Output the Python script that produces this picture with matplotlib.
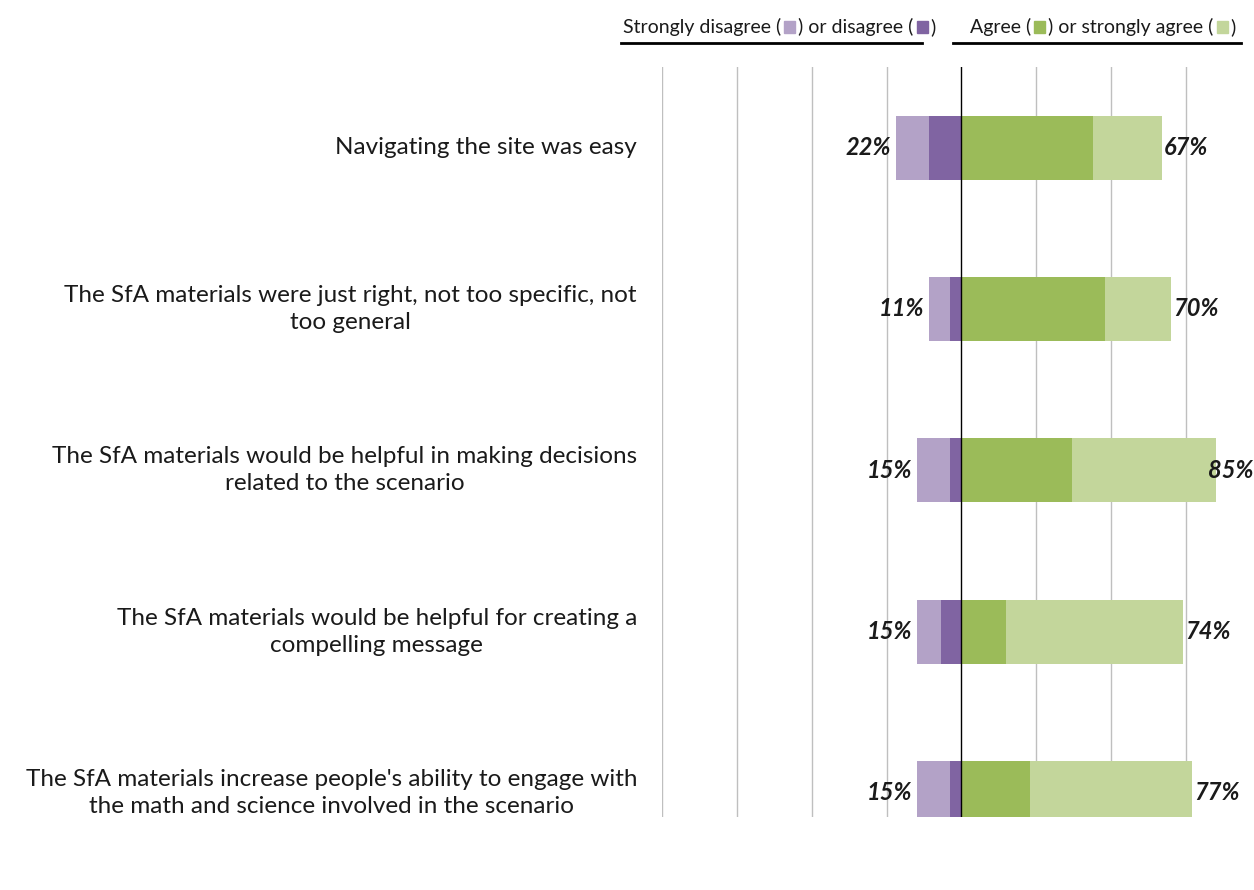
import matplotlib.pyplot as plt
from matplotlib.patches import Rectangle
from matplotlib.lines import Line2D
from matplotlib.transforms import Bbox, TransformedBbox, blended_transform_factory

plt.rcParams['font.family'] = ['Lato', 'DejaVu Sans']

statements = [
    "Navigating the site was easy",
    "The SfA materials were just right, not too specific, not\ntoo general",
    "The SfA materials would be helpful in making decisions\nrelated to the scenario",
    "The SfA materials would be helpful for creating a\ncompelling message",
    "The SfA materials increase people's ability to engage with\nthe math and science involved in the scenario",
]
strongly_disagree = [11, 7, 11, 8, 11]
disagree = [11, 4, 4, 7, 4]
agree = [44, 48, 37, 15, 23]
strongly_agree = [23, 22, 48, 59, 54]

c_sd = '#B3A2C7'
c_d = '#8064A2'
c_a = '#9BBB59'
c_sa = '#C3D69B'

W, H = 1254, 890
fig = plt.figure(figsize=(W / 100, H / 100), dpi=100)
ax = fig.add_axes([662 / W, 1 - 817 / H, (W - 662) / W, 750 / H])

y = list(range(len(statements)))
h = 0.397
neg_d = [-v for v in disagree]
ax.barh(y, neg_d, height=h, color=c_d, zorder=2)
ax.barh(y, [-v for v in strongly_disagree], left=neg_d, height=h, color=c_sd, zorder=2)
ax.barh(y, agree, height=h, color=c_a, zorder=2)
ax.barh(y, strongly_agree, left=agree, height=h, color=c_sa, zorder=2)

xmax = (W - 961) / 3
ax.set_xlim(-100, xmax)
ax.set_ylim(4 + 24 / 161.25, -0.5)
for gx in [-100, -75, -50, -25, 25, 50, 75]:
    ax.axvline(gx, color='#BFBFBF', lw=1, zorder=1)
ax.axvline(0, color='black', lw=1, zorder=3)
for s in ax.spines.values():
    s.set_visible(False)
ax.set_xticks([])
ax.set_yticks([])

# totals on each side
for i in y:
    left_total = strongly_disagree[i] + disagree[i]
    right_total = agree[i] + strongly_agree[i]
    ax.text(-left_total - 1.5, i, f"{left_total}%", ha='right', va='center',
            fontsize=17, fontweight='bold', fontstyle='italic', color='#1a1a1a')
    if right_total + 13 > xmax:
        # no room past the bar end, tuck it against the edge
        ax.text(xmax - 0.3, i, f"{right_total}%", ha='right', va='center',
                fontsize=17, fontweight='bold', fontstyle='italic', color='#1a1a1a',
                zorder=4)
    else:
        ax.text(right_total + 0.6, i, f"{right_total}%", ha='left', va='center',
                fontsize=17, fontweight='bold', fontstyle='italic', color='#1a1a1a')

# statement labels, clipped to plot area bottom
tr = blended_transform_factory(fig.transFigure, ax.transData)
clip = TransformedBbox(Bbox([[0, 1 - 817 / H], [1, 1]]), fig.transFigure)
for i, s in enumerate(statements):
    t = fig.text(637 / W, i, s, transform=tr, ha='right', va='center',
                 multialignment='center', fontsize=17.5, color='#1a1a1a',
                 linespacing=1.35)
    t.set_clip_box(clip)
    t.set_clip_on(True)

# header legends: text pieces with colour swatches in between
renderer = fig.canvas.get_renderer()


def header(x0, parts, ypix=27):
    x = x0
    yf = 1 - ypix / H
    for kind, val in parts:
        if kind == 'text':
            t = fig.text(x / W, yf, val, ha='left', va='center', fontsize=14,
                         color='#1a1a1a')
            bb = t.get_window_extent(renderer)
            x = bb.x1 + 1
        else:
            x += 2
            fig.patches.append(Rectangle((x / W, (H - ypix - 6) / H), 11 / W, 12 / H,
                                         transform=fig.transFigure, color=val,
                                         figure=fig))
            x += 11 + 3


header(623, [('text', "Strongly disagree ("), ('box', c_sd),
             ('text', ") or disagree ("), ('box', c_d), ('text', ")")])
header(970, [('text', "Agree ("), ('box', c_a),
             ('text', ") or strongly agree ("), ('box', c_sa), ('text', ")")])
fig.lines.append(Line2D([621 / W, 922 / W], [1 - 43 / H] * 2, color='black', lw=2,
                        transform=fig.transFigure))
fig.lines.append(Line2D([953 / W, 1241 / W], [1 - 43 / H] * 2, color='black', lw=2,
                        transform=fig.transFigure))

fig.savefig('out.png', dpi=100)
